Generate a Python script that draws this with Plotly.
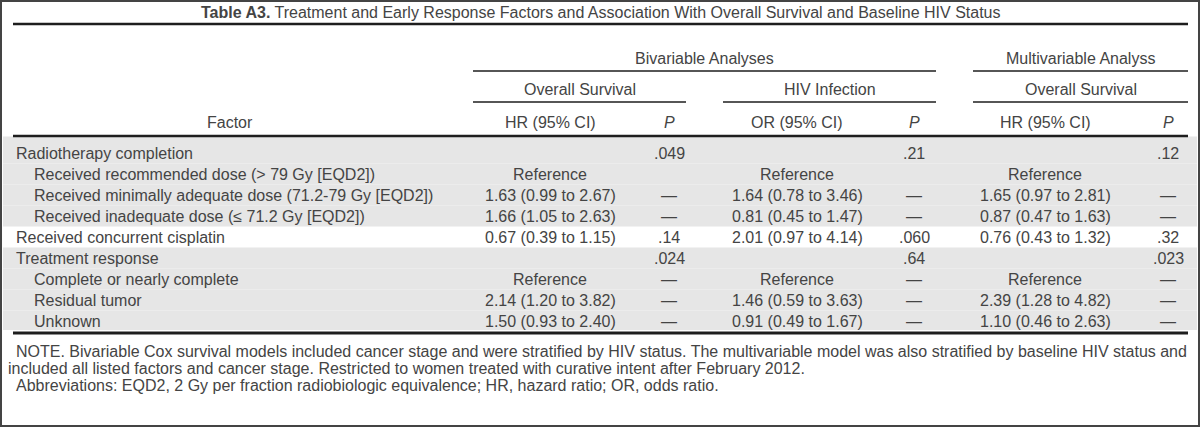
import plotly.graph_objects as go

# ---------------- data ----------------
title_bold = "Table A3."
title_rest = "Treatment and Early Response Factors and Association With Overall Survival and Baseline HIV Status"

group_headers = ["Bivariable Analyses", "Multivariable Analyss"]
sub_headers = ["Overall Survival", "HIV Infection", "Overall Survival"]
col_headers = ["Factor", "HR (95% CI)", "P", "OR (95% CI)", "P", "HR (95% CI)", "P"]

factors = [
    "Radiotherapy completion",
    "Received recommended dose (> 79 Gy [EQD2])",
    "Received minimally adequate dose (71.2-79 Gy [EQD2])",
    "Received inadequate dose (\u2264 71.2 Gy [EQD2])",
    "Received concurrent cisplatin",
    "Treatment response",
    "Complete or nearly complete",
    "Residual tumor",
    "Unknown",
]
indent = [0, 1, 1, 1, 0, 0, 1, 1, 1]
shaded = [1, 1, 1, 1, 0, 1, 1, 1, 1]

os_hr = ["", "Reference", "1.63 (0.99 to 2.67)", "1.66 (1.05 to 2.63)", "0.67 (0.39 to 1.15)",
         "", "Reference", "2.14 (1.20 to 3.82)", "1.50 (0.93 to 2.40)"]
os_p = [".049", "", "\u2014", "\u2014", ".14", ".024", "\u2014", "\u2014", "\u2014"]
hiv_or = ["", "Reference", "1.64 (0.78 to 3.46)", "0.81 (0.45 to 1.47)", "2.01 (0.97 to 4.14)",
          "", "Reference", "1.46 (0.59 to 3.63)", "0.91 (0.49 to 1.67)"]
hiv_p = [".21", "", "\u2014", "\u2014", ".060", ".64", "\u2014", "\u2014", "\u2014"]
mv_hr = ["", "Reference", "1.65 (0.97 to 2.81)", "0.87 (0.47 to 1.63)", "0.76 (0.43 to 1.32)",
         "", "Reference", "2.39 (1.28 to 4.82)", "1.10 (0.46 to 2.63)"]
mv_p = [".12", "", "\u2014", "\u2014", ".32", ".023", "\u2014", "\u2014", "\u2014"]

notes = [
    "NOTE. Bivariable Cox survival models included cancer stage and were stratified by HIV status. The multivariable model was also stratified by baseline HIV status and",
    "included all listed factors and cancer stage. Restricted to women treated with curative intent after February 2012.",
    "Abbreviations: EQD2, 2 Gy per fraction radiobiologic equivalence; HR, hazard ratio; OR, odds ratio.",
]
note_x = [14, 6, 14]

# ---------------- layout constants ----------------
W, H = 1200, 427
TXT = "#444444"
LINE = "#1e1e1e"
GRAY = "#e6e6e6"
FONT = "Liberation Sans"
FS = 16

L, R = 13, 1188
col_x = [230, 550, 669, 797, 914, 1045, 1168]
span_os = (473, 686)
span_hiv = (723, 936)
span_mv = (973, 1188)

y_title = 12
y_top_line = 24
y_group = 58
y_group_line = 71
y_sub = 89
y_sub_line = 102
y_colhdr = 122
y_hdr_line = 136
row0 = 153
row_h = 21
y_bottom_line = 333
y_notes = [351, 368, 385]

fig = go.Figure()
shapes = []
ann = []


def text(x, y, s, anchor="center", size=FS, color=TXT, family=FONT):
    ann.append(dict(x=x, y=y, text=s, showarrow=False, xanchor=anchor, yanchor="middle",
                    font=dict(family=family, size=size, color=color), xref="x", yref="y"))


def hline(x0, x1, y, w):
    shapes.append(dict(type="line", x0=x0, x1=x1, y0=y, y1=y, xref="x", yref="y",
                       line=dict(color=LINE, width=w)))


# border
shapes.append(dict(type="rect", x0=1, x1=W - 1, y0=1, y1=H - 1, xref="x", yref="y",
                   line=dict(color="#444444", width=2), fillcolor="rgba(0,0,0,0)", layer="above"))

# row backgrounds
for i, s in enumerate(shaded):
    top = row0 - row_h / 2 + i * row_h - (6 if i == 0 else 0)
    bot = row0 + row_h / 2 + i * row_h
    if i == len(shaded) - 1:
        bot = y_bottom_line - 3
    if s:
        shapes.append(dict(type="rect", x0=3, x1=W - 3, y0=top, y1=bot, xref="x", yref="y",
                           line=dict(width=0), fillcolor=GRAY, layer="below"))

# title
text(W / 2, y_title, "<b>" + title_bold + "</b> " + title_rest, size=16,
     family="Liberation Sans, Arial, sans-serif")
hline(L, R, y_top_line, 2.5)

# group headers
text((span_os[0] + span_hiv[1]) / 2, y_group, group_headers[0])
hline(span_os[0], span_hiv[1], y_group_line, 1.5)
text((span_mv[0] + span_mv[1]) / 2, y_group, group_headers[1])
hline(span_mv[0], span_mv[1], y_group_line, 1.5)

for sp, lab in zip([span_os, span_hiv, span_mv], sub_headers):
    text((sp[0] + sp[1]) / 2, y_sub, lab)
    hline(sp[0], sp[1], y_sub_line, 1.5)

for j, lab in enumerate(col_headers):
    s = "<i>" + lab + "</i>" if lab == "P" else lab
    text(col_x[j], y_colhdr, s)
hline(L, R, y_hdr_line, 2.5)

# body
cols = [os_hr, os_p, hiv_or, hiv_p, mv_hr, mv_p]
for i, f in enumerate(factors):
    y = row0 + i * row_h
    text(14 + 18 * indent[i], y, f, anchor="left")
    for j, c in enumerate(cols):
        if c[i]:
            text(col_x[j + 1], y, c[i])

hline(L, R, y_bottom_line, 3)

for s, x, y in zip(notes, note_x, y_notes):
    text(x, y, s, anchor="left", size=16)

fig.update_layout(
    width=W, height=H, margin=dict(l=0, r=0, t=0, b=0),
    paper_bgcolor="white", plot_bgcolor="white",
    xaxis=dict(range=[0, W], visible=False, fixedrange=True),
    yaxis=dict(range=[H, 0], visible=False, fixedrange=True),
    shapes=shapes, annotations=ann, showlegend=False,
)
fig.write_html("out.html", config={"displayModeBar": False},
               post_script="document.body.style.margin='0';document.body.style.padding='0';document.body.style.overflow='hidden';")
